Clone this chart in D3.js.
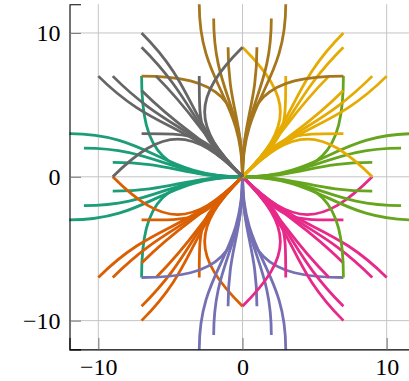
<!DOCTYPE html>
<html>
<head>
<meta charset="utf-8">
<script src="https://cdn.jsdelivr.net/npm/d3@7"></script>
<style>
  body { margin: 0; background: #fff; }
  svg { display: block; }
  .tick-label { font-family: "Liberation Serif", "DejaVu Serif", serif; font-size: 24px; fill: #000; }
</style>
</head>
<body>
<div id="chart"></div>
<script>
// axis ticks
const xTicks = [-10, 0, 10];
const yTicks = [-10, 0, 10];

// each curve starts at the origin: [end x, end y, direction at the end (deg)]
const tealCurves = [[-12, 3, 180], [-11, 2, 180], [-9, 1, 180], [-12, -3, 180], [-11, -2, 180], [-9, -1, 180], [-7, 7, 90], [-7, -7, -90]];
const orangeCurves = [[-7, -10, 225], [-10, -7, 225], [-7, -9, 225], [-9, -7, 225], [-6, -7, 225], [-7, -6, 225], [-7, -3, 180], [-3, -7, 270], [-9, 0, 135], [0, -9, 315]];
const purpleCurves = [[3, -12, 270], [2, -11, 270], [1, -9, 270], [-3, -12, 270], [-2, -11, 270], [-1, -9, 270], [7, -7, 0], [-7, -7, 180]];
const pinkCurves = [[7, -10, 315], [10, -7, 315], [7, -9, 315], [9, -7, 315], [6, -7, 315], [7, -6, 315], [7, -3, 0], [3, -7, 270], [9, 0, 45], [0, -9, 225]];
const greenCurves = [[12, 3, 0], [11, 2, 0], [9, 1, 0], [12, -3, 0], [11, -2, 0], [9, -1, 0], [7, 7, 90], [7, -7, -90]];
const yellowCurves = [[7, 10, 45], [10, 7, 45], [7, 9, 45], [9, 7, 45], [6, 7, 45], [7, 6, 45], [7, 3, 0], [3, 7, 90], [0, 9, 135], [9, 0, -45]];
const brownCurves = [[3, 12, 90], [2, 11, 90], [1, 9, 90], [-3, 12, 90], [-2, 11, 90], [-1, 9, 90], [7, 7, 0], [-7, 7, 180]];
const grayCurves = [[-7, 10, 135], [-10, 7, 135], [-7, 9, 135], [-9, 7, 135], [-6, 7, 135], [-7, 6, 135], [-7, 3, 180], [-3, 7, 90], [0, 9, 45], [-9, 0, 225]];

// direction in which each group leaves the origin (deg), in drawing order
const groupAngles = [180, 225, 270, 315, 0, 45, 90, 135];
const groups = [tealCurves, orangeCurves, purpleCurves, pinkCurves, greenCurves, yellowCurves, brownCurves, grayCurves];
const colors = ['#1b9e77', '#d95f02', '#7570b3', '#e7298a', '#66a61e', '#e6ab02', '#a6761d', '#666666'];

const width = 409, height = 381;
const margin = { left: 69.5, top: 4.2 };

const x = d3.scaleLinear().domain([-12, 12]).range([margin.left, 415.5]);
const y = d3.scaleLinear().domain([-12, 12]).range([349.4, margin.top]);

const svg = d3.select('#chart').append('svg')
  .attr('width', width)
  .attr('height', height);

// grid
const grid = svg.append('g').attr('stroke', '#c4c4c4').attr('stroke-width', 1);
grid.selectAll('.gx').data(xTicks).enter().append('line')
  .attr('x1', d => x(d)).attr('x2', d => x(d))
  .attr('y1', y(-12)).attr('y2', y(12));
grid.selectAll('.gy').data(yTicks).enter().append('line')
  .attr('y1', d => y(d)).attr('y2', d => y(d))
  .attr('x1', x(-12)).attr('x2', x(12));

// curves
const rad = Math.PI / 180;
function curvePath(c, a0) {
  const [ex, ey, a1] = c;
  const len = Math.hypot(ex, ey);
  const turn = Math.abs(((a1 - a0) % 360 + 540) % 360 - 180);
  const k = (turn > 10 ? 0.55 : 0.45) * len;
  const p = d3.path();
  p.moveTo(x(0), y(0));
  p.bezierCurveTo(
    x(k * Math.cos(a0 * rad)), y(k * Math.sin(a0 * rad)),
    x(ex - k * Math.cos(a1 * rad)), y(ey - k * Math.sin(a1 * rad)),
    x(ex), y(ey));
  return p.toString();
}

groups.forEach((curves, i) => {
  svg.append('g')
    .attr('fill', 'none')
    .attr('stroke', colors[i])
    .attr('stroke-width', 2.8)
    .selectAll('path')
    .data(curves)
    .enter()
    .append('path')
    .attr('d', d => curvePath(d, groupAngles[i]));
});

// axes (left and bottom lines only)
const fmt = d => d < 0 ? '\u2212' + Math.abs(d) : d;
const xAxis = svg.append('g')
  .attr('transform', `translate(0, ${y(-12)})`)
  .call(d3.axisBottom(x).tickValues(xTicks).tickSize(-11.5).tickFormat(fmt));
const yAxis = svg.append('g')
  .attr('transform', `translate(${x(-12)}, 0)`)
  .call(d3.axisLeft(y).tickValues(yTicks).tickSize(-11.5).tickFormat(fmt));

[xAxis, yAxis].forEach(ax => {
  ax.select('.domain').attr('stroke', '#000').attr('stroke-width', 1.1);
  ax.selectAll('.tick line').attr('stroke', '#808080').attr('stroke-width', 1.1);
  ax.selectAll('.tick text').attr('class', 'tick-label').attr('font-family', null).attr('font-size', null);
});
xAxis.selectAll('.tick text').attr('y', 26).attr('dy', null);
yAxis.selectAll('.tick text').attr('x', -9).attr('dy', '0.32em');
</script>
</body>
</html>
